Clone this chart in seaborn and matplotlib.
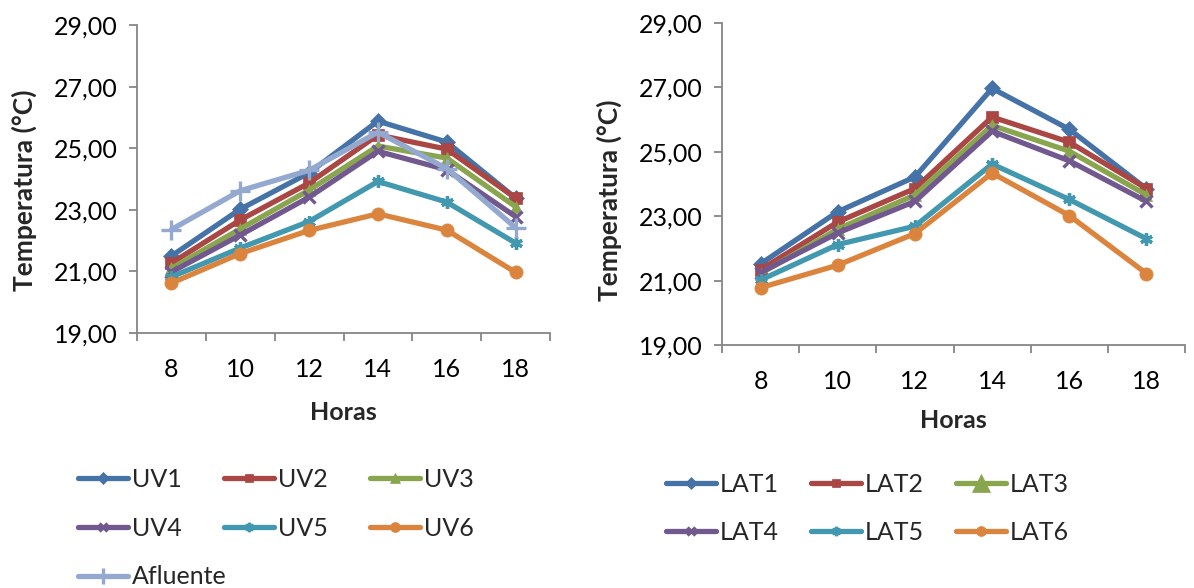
import matplotlib
matplotlib.use("Agg")
import matplotlib.pyplot as plt
from matplotlib.ticker import FixedLocator, FuncFormatter
import numpy as np
import pandas as pd
import seaborn as sns

# Hours of measurement
horas = [8, 10, 12, 14, 16, 18]

# UV reactors + influent (°C)
uv_series = ["UV1", "UV2", "UV3", "UV4", "UV5", "UV6", "Afluente"]
uv1 = [21.50, 23.02, 24.20, 25.88, 25.20, 23.38]
uv2 = [21.27, 22.67, 23.87, 25.43, 24.97, 23.38]
uv3 = [21.10, 22.38, 23.64, 25.07, 24.68, 23.10]
uv4 = [20.98, 22.18, 23.41, 24.90, 24.30, 22.78]
uv5 = [20.82, 21.76, 22.62, 23.92, 23.25, 21.92]
uv6 = [20.62, 21.58, 22.33, 22.87, 22.34, 20.97]
afluente = [22.36, 23.62, 24.28, 25.52, 24.34, 22.42]

# Lateral sampling points (°C)
lat_series = ["LAT1", "LAT2", "LAT3", "LAT4", "LAT5", "LAT6"]
lat1 = [21.52, 23.14, 24.22, 26.97, 25.70, 23.85]
lat2 = [21.34, 22.82, 23.86, 26.08, 25.30, 23.86]
lat3 = [21.22, 22.60, 23.66, 25.82, 25.02, 23.66]
lat4 = [21.25, 22.48, 23.46, 25.64, 24.72, 23.46]
lat5 = [21.02, 22.12, 22.69, 24.62, 23.52, 22.30]
lat6 = [20.78, 21.48, 22.46, 24.34, 23.02, 21.22]

y_ticks = [19, 21, 23, 25, 27, 29]

colors = ["#4572A7", "#AA4643", "#89A54E", "#71588F", "#4198AF", "#DB843D", "#93A9CF"]
marker_shapes = ["D", "s", "^", "x", (6, 2, 0), "o", "+"]
marker_sizes = [8, 8.5, 9, 8, 9, 9.5, 15]
line_art = [False, False, False, True, True, False, True]

sns.set_theme(style="white")
plt.rcParams["font.family"] = ["Lato", "DejaVu Sans"]
FS = 18
GREY = "#868686"


def long_form(names, values):
    rows = []
    for name, vals in zip(names, values):
        for h, v in zip(horas, vals):
            rows.append({"Horas": h, "Temperatura": v, "Serie": name})
    return pd.DataFrame(rows)


def draw_panel(ax, names, values):
    df = long_form(names, values)
    pal = dict(zip(names, colors))
    sns.lineplot(data=df, x="Horas", y="Temperatura", hue="Serie",
                 hue_order=names, palette=pal, linewidth=3.8, legend=False, ax=ax)
    for i, line in enumerate(ax.lines):
        c = colors[i]
        line.set_color(c)
        line.set_marker(marker_shapes[i])
        line.set_markerfacecolor(c)
        line.set_markeredgecolor(c)
        line.set_markersize(marker_sizes[i])
        line.set_markeredgewidth(2.4 if line_art[i] else 0.5)
        line.set_solid_capstyle("round")
        line.set_solid_joinstyle("round")

    ax.set_xlim(7, 19)
    ax.set_ylim(19, 29)
    ax.xaxis.set_major_locator(FixedLocator(horas))
    ax.xaxis.set_minor_locator(FixedLocator(np.arange(7, 20, 2)))
    ax.yaxis.set_major_locator(FixedLocator(y_ticks))
    ax.yaxis.set_major_formatter(FuncFormatter(lambda v, p: f"{v:.2f}".replace(".", ",")))
    ax.tick_params(axis="x", which="major", length=0, pad=18, labelsize=FS, labelcolor="black")
    ax.tick_params(axis="x", which="minor", length=6, width=1.3, color=GREY, direction="out", bottom=True)
    ax.tick_params(axis="y", which="major", length=6, width=1.3, color=GREY, direction="out",
                   left=True, pad=8, labelsize=FS, labelcolor="black")
    for side in ("top", "right"):
        ax.spines[side].set_visible(False)
    for side in ("left", "bottom"):
        ax.spines[side].set_color(GREY)
        ax.spines[side].set_linewidth(1.3)
    ax.set_xlabel("Horas", fontsize=18, fontweight="bold")
    ax.set_ylabel("Temperatura (°C)", fontsize=19, fontweight="bold")


W, H = 1194, 588
fig = plt.figure(figsize=(W / 100, H / 100), dpi=100)

ax1 = fig.add_axes([137 / W, (H - 333) / H, 413 / W, 308 / H])
ax2 = fig.add_axes([722 / W, (H - 345) / H, 463 / W, 322 / H])

draw_panel(ax1, uv_series, [uv1, uv2, uv3, uv4, uv5, uv6, afluente])
draw_panel(ax2, lat_series, [lat1, lat2, lat3, lat4, lat5, lat6])

ax1.yaxis.set_label_coords(-0.242, 0.464)
ax1.xaxis.set_label_coords(0.5, -0.22)
ax2.yaxis.set_label_coords(-0.216, 0.45)
ax2.xaxis.set_label_coords(0.5, -0.2)


def column_legend(ax, idx, x_px, y_px, labels, spacing, big_marker=None):
    handles = [ax.lines[i] for i in idx]
    leg = fig.legend(handles, [labels[i] for i in idx], loc="upper left",
                     bbox_to_anchor=(x_px / W, 1 - y_px / H), frameon=False,
                     fontsize=FS, handlelength=2.0, handletextpad=0.15,
                     borderpad=0, borderaxespad=0, labelspacing=spacing, markerscale=0.75)
    if big_marker is not None:
        leg.legend_handles[big_marker].set_markersize(13)
    return leg


column_legend(ax1, [0, 3, 6], 78, 468, uv_series, 1.03)
column_legend(ax1, [1, 4], 224, 468, uv_series, 1.03)
column_legend(ax1, [2, 5], 370, 468, uv_series, 1.03)

column_legend(ax2, [0, 3], 666, 473, lat_series, 0.99)
column_legend(ax2, [1, 4], 811, 473, lat_series, 0.99)
column_legend(ax2, [2, 5], 956, 473, lat_series, 0.99, big_marker=0)

fig.savefig("out.png", dpi=100)
